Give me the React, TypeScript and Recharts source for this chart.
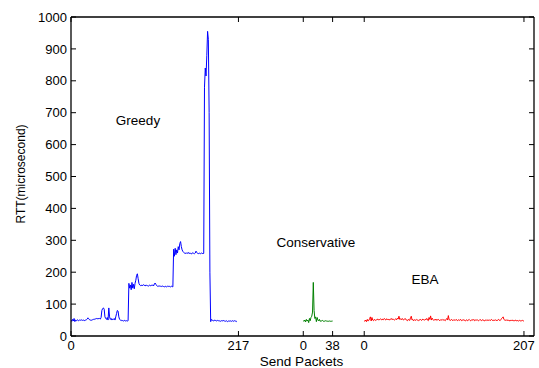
import React from 'react';
import { LineChart, Line, XAxis, YAxis } from 'recharts';

const greedy: number[] = [
  50, 46, 52, 47, 55, 45, 50, 48, 51, 49,
  48, 50, 49, 51, 50, 49, 50, 48, 49, 50,
  51, 53, 57, 54, 51, 50, 49, 50, 51, 52,
  53, 52, 54, 55, 53, 56, 54,
  55, 53, 58, 80, 86, 88, 84, 60, 55, 52, 58, 50, 88, 60,
  52, 55, 50, 53, 52, 55, 50, 60, 70, 80, 78, 60, 52, 50,
  48, 50, 48, 47, 49, 48, 47, 48, 47, 48,
  165, 150, 160, 145, 168, 150, 162, 148, 165, 175, 190, 195, 180, 165, 160,
  158, 160, 157, 159, 161, 158, 160, 157, 159, 158,
  156, 158, 160, 157, 159, 158, 160, 157, 163,
  166, 162,
  158, 156, 157, 155, 157, 156, 155, 157, 156, 155,
  154, 156, 155, 154, 156, 155, 157, 155, 154, 156,
  155, 154,
  272, 250, 275, 255, 270, 260, 280, 270, 290, 296, 280, 270, 265, 262, 260,
  260, 258, 261, 259, 262, 258, 260, 259, 257, 260,
  261, 259, 258, 260, 266, 262, 259, 258, 260, 259,
  258, 260, 259, 258, 259,
  780, 840, 815, 880, 955, 930, 700, 200, 45,
  52, 50, 48, 47, 50, 49, 48, 47, 49, 48,
  47, 48, 46, 48, 47, 49, 48, 47, 46, 48,
  47, 45, 47, 46, 48, 47, 46, 48, 47, 46,
  48, 47, 45, 47,
];

const conservative: number[] = [
  48, 46, 50, 44, 52, 47, 50, 42, 55, 48,
  58, 62, 75, 168, 80, 55, 60, 45, 58, 50,
  47, 52, 46, 48, 47, 49, 46, 47, 46, 48,
  47, 46, 47, 46, 47, 46, 47, 46, 47,
];

const eba: number[] = [
  48, 46, 50, 45, 52, 47, 49, 55, 60, 47,
  58, 50, 48, 52, 50, 49, 51, 53, 50, 52,
  51, 54, 52, 50, 53, 51, 55, 52, 50, 54,
  52, 51, 53, 50, 52, 55, 51, 53, 52, 50,
  52, 54, 51, 56, 53, 62, 52, 54, 51, 55,
  53, 50, 52, 55, 51, 50, 48, 52, 50, 49,
  58, 62, 50, 52, 48, 51, 50, 49, 52, 50,
  48, 51, 50, 52, 49, 50, 53, 51, 50, 52,
  51, 55, 50, 48, 58, 52, 63, 50, 56, 52,
  49, 51, 50, 53, 49, 51, 52, 50, 48, 51,
  50, 52, 49, 51, 50, 48, 52, 55, 50, 64,
  51, 50, 49, 52, 50, 48, 51, 50, 49, 52,
  50, 48, 51, 49, 50, 52, 48, 50, 49, 51,
  50, 47, 49, 51, 48, 50, 52, 49, 48, 50,
  51, 49, 52, 48, 50, 49, 51, 50, 48, 49,
  52, 50, 48, 51, 49, 50, 47, 49, 51, 48,
  50, 49, 51, 48, 50, 52, 49, 48, 50, 49,
  51, 48, 50, 49, 52, 50, 48, 51, 55, 57,
  60, 52, 50, 49, 51, 48, 50, 49, 47, 50,
  48, 49, 50, 47, 49, 48, 50, 47, 49, 48,
  47, 49, 48, 47, 48, 49, 47, 48,
];

// offsets of each segment on the shared packet axis
const greedyOffset = 0;
const conservativeOffset = 301;
const ebaOffset = 380;
const xDomainMax = 600;

const xTickValues = [0, 217, 301, 339, 380, 587];
const xTickLabels = ['0', '217', '0', '38', '0', '207'];
const yTickValues = [0, 100, 200, 300, 400, 500, 600, 700, 800, 900, 1000];

const greedyData = greedy.map((v, i) => ({ x: greedyOffset + i, y: v }));
const conservativeData = conservative.map((v, i) => ({ x: conservativeOffset + i, y: v }));
const ebaData = eba.map((v, i) => ({ x: ebaOffset + i, y: v }));

const FONT = "Arial, 'Liberation Sans', sans-serif";
const tickStyle = { fontSize: 13, fill: '#000', fontFamily: FONT };
const axisLine = { stroke: '#000', strokeWidth: 1.3 };
const xFmt = (v: number) => {
  const k = xTickValues.indexOf(v);
  return k >= 0 ? xTickLabels[k] : '';
};

export default function App() {
  return (
    <div style={{ position: 'absolute', left: 0, top: 0, width: 539, height: 368, background: '#fff' }}>
      <LineChart
        width={539}
        height={368}
        margin={{ top: 16, right: 4, bottom: 0, left: 0 }}
      >
        <XAxis
          xAxisId="b"
          type="number"
          dataKey="x"
          domain={[0, xDomainMax]}
          ticks={xTickValues}
          tickFormatter={xFmt}
          interval={0}
          height={32}
          tickSize={-5}
          tickMargin={10}
          tick={tickStyle}
          axisLine={axisLine}
          tickLine={{ stroke: '#000' }}
          allowDataOverflow
        />
        <XAxis
          xAxisId="t"
          orientation="top"
          type="number"
          dataKey="x"
          domain={[0, xDomainMax]}
          ticks={xTickValues}
          tickFormatter={() => ''}
          interval={0}
          height={1}
          tickSize={-5}
          axisLine={axisLine}
          tickLine={{ stroke: '#000' }}
          allowDataOverflow
        />
        <YAxis
          yAxisId="l"
          type="number"
          domain={[0, 1000]}
          ticks={yTickValues}
          interval={0}
          width={71}
          tickSize={-5}
          tickMargin={9}
          tick={tickStyle}
          axisLine={axisLine}
          tickLine={{ stroke: '#000' }}
          allowDataOverflow
        />
        <YAxis
          yAxisId="r"
          orientation="right"
          type="number"
          domain={[0, 1000]}
          ticks={yTickValues}
          tickFormatter={() => ''}
          interval={0}
          width={1}
          tickSize={-5}
          axisLine={axisLine}
          tickLine={{ stroke: '#000' }}
          allowDataOverflow
        />
        <Line xAxisId="b" yAxisId="l" data={greedyData} dataKey="y" type="linear" stroke="#0000ff" strokeWidth={1} dot={false} isAnimationActive={false} />
        <Line xAxisId="b" yAxisId="l" data={conservativeData} dataKey="y" type="linear" stroke="#008000" strokeWidth={1} dot={false} isAnimationActive={false} />
        <Line xAxisId="b" yAxisId="l" data={ebaData} dataKey="y" type="linear" stroke="#ff0000" strokeWidth={1} dot={false} isAnimationActive={false} />
      </LineChart>
      <svg width={539} height={368} style={{ position: 'absolute', left: 0, top: 0, pointerEvents: 'none' }}>
        <g fontFamily={FONT} fill="#000">
          <text x={138} y={125} fontSize={13.5} textAnchor="middle">Greedy</text>
          <text x={316} y={247} fontSize={13.5} textAnchor="middle">Conservative</text>
          <text x={425} y={284} fontSize={13.5} textAnchor="middle">EBA</text>
          <text x={301.5} y={365.5} fontSize={13.5} textAnchor="middle">Send Packets</text>
          <text x={0} y={0} fontSize={12} textAnchor="middle" transform="translate(24.5,174) rotate(-90)">RTT(microsecond)</text>
        </g>
      </svg>
    </div>
  );
}
